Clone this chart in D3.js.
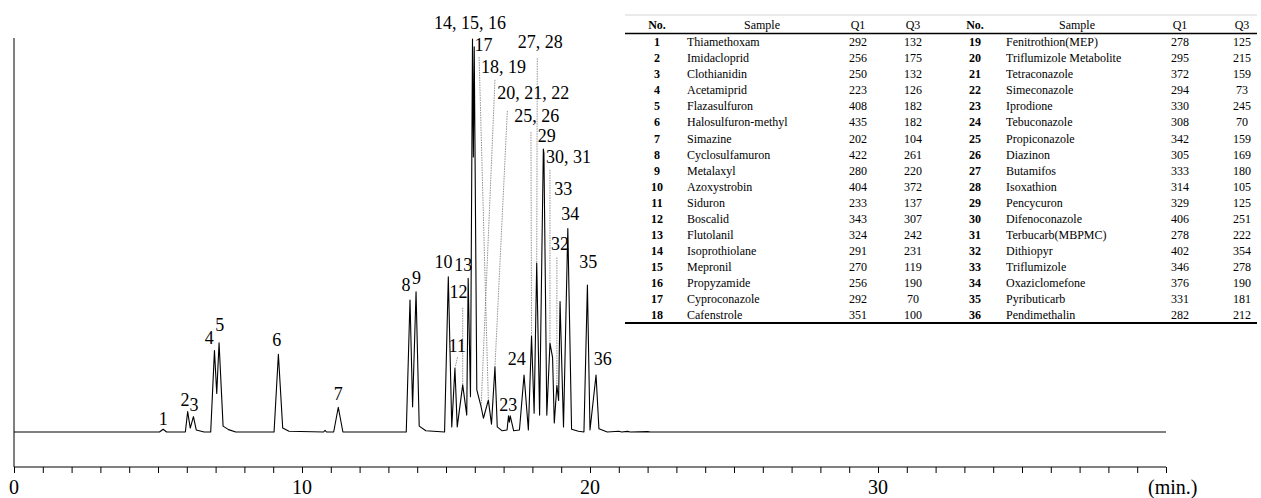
<!DOCTYPE html>
<html>
<head>
<meta charset="utf-8">
<script src="https://cdn.jsdelivr.net/npm/d3@7"></script>
<style>
  body { margin: 0; background: #fff; }
  svg { display: block; font-family: "Liberation Serif", "Times New Roman", serif; }
</style>
</head>
<body>
<svg width="1261" height="498"></svg>
<script>
'use strict';

// chromatogram trace (time in min, signal in % of the tallest peak)
const traceTime = [0, 5.05, 5.18, 5.3, 5.95, 6.03, 6.12, 6.23, 6.33, 6.6, 6.83, 6.96, 7.04, 7.12, 7.26, 7.45, 7.7,
  9.03, 9.18, 9.33, 9.55, 10.75, 10.8, 10.85, 11.1, 11.26, 11.42,
  13.62, 13.75, 13.84, 13.96, 14.07, 14.3, 14.95, 15.08, 15.2, 15.31, 15.39, 15.58, 15.72, 15.77, 15.85,
  15.92, 15.95, 15.98, 16.07, 16.22, 16.3, 16.47, 16.58, 16.7, 16.78, 16.95,
  17.12, 17.17, 17.2, 17.23, 17.35, 17.55, 17.71, 17.86, 17.97, 18.06, 18.15, 18.25,
  18.38, 18.4, 18.5, 18.61, 18.7, 18.76, 18.85, 18.91, 18.96, 19.08, 19.23, 19.36, 19.6,
  19.79, 19.91, 20.0, 20.21, 20.31, 20.6, 21.0, 21.1, 21.3, 21.4, 22.0, 22.1, 40];
const traceSignal = [0, 0, 0.7, 0, 0, 5.2, 1.0, 3.9, 0.5, 0, 0, 20.7, 9.8, 22.7, 1.5, 0.6, 0,
  0, 19.8, 1, 0.2, 0, 0.4, 0, 0, 6.3, 0,
  0, 33.6, 6.4, 35.7, 1.5, 0.3, 0, 39.5, 1.3, 16.2, 1.3, 12, 4.3, 39.1, 9,
  100, 70, 98, 10.7, 6.4, 3.5, 8.1, 2, 16.6, 1.3, 0.3,
  0.5, 4.1, 2.5, 4.1, 0.3, 0.5, 14.5, 0.5, 24.4, 4.8, 43, 4.3,
  72, 71, 4.3, 22.6, 19, 2.3, 11.9, 8, 33.2, 1.3, 51.8, 0.7, 0.2,
  0, 37.4, 0.5, 14.5, 0.8, 0, 0.2, 0, 0.15, 0, 0.1, 0, 0];

// peak labels: text, label position (min, %), leader start/end (min, %) or null
const peakLabels = ["1", "2", "3", "4", "5", "6", "7", "8", "9", "10", "11", "12", "13",
  "14, 15, 16", "17", "18, 19", "20, 21, 22", "23", "24", "25, 26", "27, 28", "29", "30, 31",
  "32", "33", "34", "35", "36"];
const labelTime = [5.18, 5.94, 6.25, 6.78, 7.14, 9.12, 11.26, 13.61, 13.98, 14.91, 15.39, 15.43, 15.6,
  15.83, 16.3, 17.0, 18.03, 17.16, 17.46, 18.15, 18.27, 18.5, 19.25,
  18.96, 19.07, 19.31, 19.94, 20.44];
const labelSignal = [3.3, 8.3, 6.9, 24.1, 27.2, 23.4, 9.8, 37.4, 39.3, 43.3, 22.0, 35.7, 42.5,
  104.2, 98.5, 92.9, 86.3, 6.9, 18.7, 80.4, 99.3, 75.4, 70.1,
  48.0, 62.0, 55.6, 43.3, 18.7];
const leaderFrom = [null, null, null, null, null, null, null, null, null, null, [15.4, 19], [15.58, 31.6], null,
  null, [16.15, 95.4], [16.7, 89.6], [17.13, 81.7], null, null, [17.95, 76.3], [18.17, 95.1], null, null,
  [18.85, 44.4], [18.61, 66.7], null, null, null];
const leaderTo = [null, null, null, null, null, null, null, null, null, null, [15.31, 16.2], [15.58, 12], null,
  null, [16.47, 8.1], [16.22, 6.4], [16.7, 16.6], null, null, [17.97, 24.4], [18.15, 43], null, null,
  [18.85, 11.9], [18.61, 22.6], null, null, null];

// table of compounds
const tableNo = d3.range(1, 37);
const tableSample = ["Thiamethoxam", "Imidacloprid", "Clothianidin", "Acetamiprid", "Flazasulfuron",
  "Halosulfuron-methyl", "Simazine", "Cyclosulfamuron", "Metalaxyl", "Azoxystrobin", "Siduron", "Boscalid",
  "Flutolanil", "Isoprothiolane", "Mepronil", "Propyzamide", "Cyproconazole", "Cafenstrole",
  "Fenitrothion(MEP)", "Triflumizole Metabolite", "Tetraconazole", "Simeconazole", "Iprodione",
  "Tebuconazole", "Propiconazole", "Diazinon", "Butamifos", "Isoxathion", "Pencycuron", "Difenoconazole",
  "Terbucarb(MBPMC)", "Dithiopyr", "Triflumizole", "Oxaziclomefone", "Pyributicarb", "Pendimethalin"];
const tableQ1 = [292, 256, 250, 223, 408, 435, 202, 422, 280, 404, 233, 343, 324, 291, 270, 256, 292, 351,
  278, 295, 372, 294, 330, 308, 342, 305, 333, 314, 329, 406, 278, 402, 346, 376, 331, 282];
const tableQ3 = [132, 175, 132, 126, 182, 182, 104, 261, 220, 372, 137, 307, 242, 231, 119, 190, 70, 100,
  125, 215, 159, 73, 245, 70, 159, 169, 180, 105, 125, 251, 222, 354, 278, 190, 181, 212];
const tableHeader = ["No.", "Sample", "Q1", "Q3"];

const xTicks = [0, 10, 20, 30];

const svg = d3.select("svg");

// ---- chromatogram
const x = d3.scaleLinear().domain([0, 40]).range([14, 1166]);
const y = d3.scaleLinear().domain([0, 100]).range([432, 39]);

const axis = svg.append("g").attr("transform", "translate(0,467)");
axis.call(d3.axisBottom(x).tickValues(d3.range(0, 41)).tickSize(6).tickFormat(""));
axis.select(".domain").attr("d", `M${x(0)},0H${x(40)}`).attr("stroke", "#000");
axis.selectAll(".tick line").attr("stroke", "#000");

svg.append("line")
  .attr("x1", x(0)).attr("x2", x(0))
  .attr("y1", 38).attr("y2", 467)
  .attr("stroke", "#000");

svg.selectAll(".xlab")
  .data(xTicks)
  .enter()
  .append("text")
  .attr("class", "xlab")
  .attr("x", d => x(d))
  .attr("y", 494)
  .attr("text-anchor", "middle")
  .style("font-size", "20px")
  .text(d => d);

svg.append("text")
  .attr("x", 1148).attr("y", 494)
  .style("font-size", "20px")
  .text("(min.)");

const line = d3.line()
  .x(d => x(d[0]))
  .y(d => y(d[1]));

svg.append("path")
  .datum(d3.zip(traceTime, traceSignal))
  .attr("fill", "none")
  .attr("stroke", "#000")
  .attr("stroke-width", 1.1)
  .attr("stroke-linejoin", "round")
  .attr("d", line);

// leaders
peakLabels.forEach((lab, i) => {
  if (!leaderFrom[i]) return;
  svg.append("line")
    .attr("x1", x(leaderFrom[i][0])).attr("y1", y(leaderFrom[i][1]))
    .attr("x2", x(leaderTo[i][0])).attr("y2", y(leaderTo[i][1]))
    .attr("stroke", "#777")
    .attr("stroke-width", 0.8)
    .attr("stroke-dasharray", "1.5,1");
});

svg.selectAll(".plab")
  .data(peakLabels)
  .enter()
  .append("text")
  .attr("class", "plab")
  .attr("x", (d, i) => x(labelTime[i]))
  .attr("y", (d, i) => y(labelSignal[i]))
  .attr("dy", "0.35em")
  .attr("text-anchor", "middle")
  .style("font-size", "18px")
  .text(d => d);

// ---- table
const tbl = svg.append("g");
const rowY = d3.scaleLinear().domain([0, 17]).range([42, 315]);
const blocks = [
  { start: 0, no: 657, sample: 687, sampleHead: 762, q1: 858, q3: 913 },
  { start: 18, no: 975, sample: 1006, sampleHead: 1077, q1: 1180, q3: 1242 }
];

tbl.append("line").attr("x1", 625).attr("x2", 1257).attr("y1", 15).attr("y2", 15)
  .attr("stroke", "#bbb").attr("stroke-width", 0.6);
tbl.append("line").attr("x1", 625).attr("x2", 1257).attr("y1", 33.5).attr("y2", 33.5)
  .attr("stroke", "#000").attr("stroke-width", 1.5);
tbl.append("line").attr("x1", 625).attr("x2", 1257).attr("y1", 323).attr("y2", 323)
  .attr("stroke", "#000").attr("stroke-width", 2);

blocks.forEach(b => {
  const hx = [b.no, b.sampleHead, b.q1, b.q3];
  tableHeader.forEach((h, j) => {
    tbl.append("text")
      .attr("x", hx[j]).attr("y", 25).attr("dy", "0.35em")
      .attr("text-anchor", "middle")
      .style("font-size", "12px")
      .style("font-weight", j === 0 ? "bold" : "normal")
      .text(h);
  });
  for (let r = 0; r < 18; r++) {
    const k = b.start + r;
    const ry = rowY(r);
    tbl.append("text").attr("x", b.no).attr("y", ry).attr("dy", "0.35em")
      .attr("text-anchor", "middle").style("font-size", "12px").style("font-weight", "bold")
      .text(tableNo[k]);
    tbl.append("text").attr("x", b.sample).attr("y", ry).attr("dy", "0.35em")
      .style("font-size", "12px").text(tableSample[k]);
    tbl.append("text").attr("x", b.q1).attr("y", ry).attr("dy", "0.35em")
      .attr("text-anchor", "middle").style("font-size", "12px").text(tableQ1[k]);
    tbl.append("text").attr("x", b.q3).attr("y", ry).attr("dy", "0.35em")
      .attr("text-anchor", "middle").style("font-size", "12px").text(tableQ3[k]);
  }
});
</script>
</body>
</html>
